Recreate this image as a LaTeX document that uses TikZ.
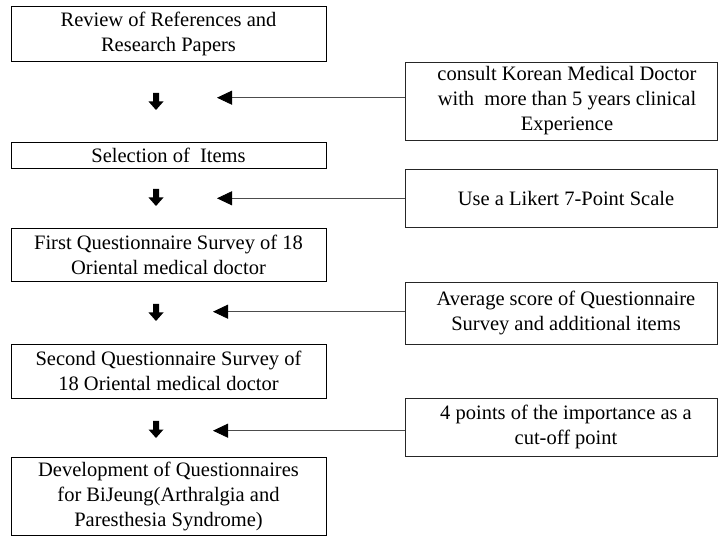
\documentclass[tikz,border=0pt]{standalone}
\usepackage{fontspec}
\setmainfont{Liberation Serif}
\usetikzlibrary{arrows.meta}
\tikzset{
  stepbox/.style={draw=black, line width=0.9pt, inner sep=0pt, align=center,
    font=\fontsize{20.5}{25}\selectfont},
  sidebox/.style={draw=black!85, line width=0.9pt, inner sep=0pt},
  sidetext/.style={inner sep=0pt, align=center, font=\fontsize{20.5}{25}\selectfont},
  feed/.style={draw=black!70, line width=0.8pt, -{Triangle[length=15pt,width=14pt,black]}},
  blkarrow/.style={fill=black},
}
\newcommand\DownBlk[2]{% x, top y
  \fill[blkarrow] (#1-3,#2) -- (#1+3,#2) -- (#1+3,#2+8.5) -- (#1+7.5,#2+8.5)
    -- (#1,#2+17) -- (#1-7.5,#2+8.5) -- (#1-3,#2+8.5) -- cycle;}
\begin{document}
\begin{tikzpicture}[x=1pt,y=-1pt]
\useasboundingbox (0,0) rectangle (718,537);
% main steps
\node[stepbox, minimum width=315pt, minimum height=55pt] (b1) at (168.5,33.5)
  {Review of References and\\Research Papers};
\node[stepbox, minimum width=315pt, minimum height=26pt] (b2) at (168.5,155)
  {Selection of\ \ Items};
\node[stepbox, minimum width=315pt, minimum height=53pt] (b3) at (168.5,254.5)
  {First Questionnaire Survey of 18\\Oriental medical doctor};
\node[stepbox, minimum width=315pt, minimum height=54pt] (b4) at (168.5,371)
  {Second Questionnaire Survey of\\18 Oriental medical doctor};
\node[stepbox, minimum width=315pt, minimum height=78pt] (b5) at (168.5,496)
  {Development of Questionnaires\\for BiJeung(Arthralgia and\\Paresthesia Syndrome)};
% side boxes
\node[sidebox, minimum width=312pt, minimum height=78pt] (r1) at (561,101) {};
\node[sidetext] (t1) at (567,101) {consult Korean Medical Doctor\\with\ \ more than 5 years clinical\\Experience};
\node[sidebox, minimum width=312pt, minimum height=58pt] (r2) at (561,198) {};
\node[sidetext] (t2) at (566,198) {Use a Likert 7-Point Scale};
\node[sidebox, minimum width=312pt, minimum height=62pt] (r3) at (561,313) {};
\node[sidetext] (t3) at (566,313) {Average score of Questionnaire\\Survey and additional items};
\node[sidebox, minimum width=312pt, minimum height=58pt] (r4) at (561,427) {};
\node[sidetext] (t4) at (566,427) {4 points of the importance as a\\cut-off point};
% arrow tips
\coordinate (p1) at (217,97.7);
\coordinate (p2) at (217,198.3);
\coordinate (p3) at (213,311.7);
\coordinate (p4) at (213,430.7);
\draw[feed] (p1 -| r1.west) -- (p1);
\draw[feed] (p2 -| r2.west) -- (p2);
\draw[feed] (p3 -| r3.west) -- (p3);
\draw[feed] (p4 -| r4.west) -- (p4);
% down block arrows
\DownBlk{156}{93}
\DownBlk{156}{189}
\DownBlk{156}{304}
\DownBlk{156}{421}
\end{tikzpicture}
\end{document}
